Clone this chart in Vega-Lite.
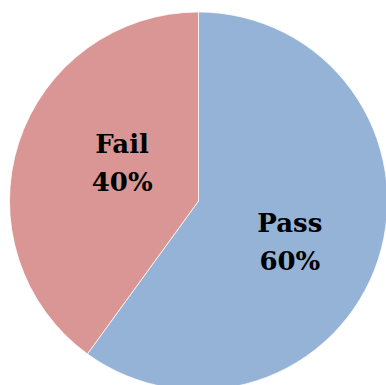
{
  "$schema": "https://vega.github.io/schema/vega-lite/v6.json",
  "width": 397,
  "height": 402,
  "autosize": "none",
  "padding": 0,
  "background": "white",
  "view": {"stroke": null},
  "data": {"values": [
    {"result": "Pass", "share": 60, "label": ["Pass", "60%"]},
    {"result": "Fail", "share": 40, "label": ["Fail", "40%"]}
  ]},
  "encoding": {
    "theta": {"field": "share", "type": "quantitative", "stack": true},
    "order": {"field": "share", "type": "quantitative", "sort": "descending"},
    "color": {"field": "result", "type": "nominal", "sort": ["Pass", "Fail"], "scale": {"domain": ["Pass", "Fail"], "range": ["#95B3D7", "#D99694"]}, "legend": null}
  },
  "layer": [
    {"mark": {"type": "arc", "outerRadius": 189, "stroke": "#ffffff", "strokeWidth": 0.75}},
    {"mark": {"type": "text", "radius": 95, "font": "DejaVu Serif", "fontWeight": "bold", "fontSize": 26, "lineHeight": 38, "align": "center", "baseline": "middle",
      "dx": {"expr": "datum.result === 'Pass' ? 1 : 14"},
      "dy": {"expr": "datum.result === 'Pass' ? -6 : -27"}},
     "encoding": {"text": {"field": "label"}, "color": {"value": "#000000"}}}
  ]
}
